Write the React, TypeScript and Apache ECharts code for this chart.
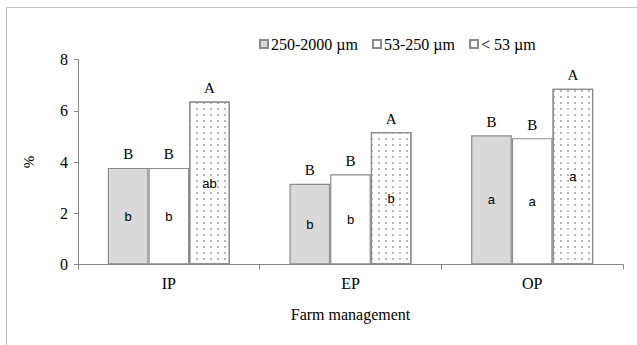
import React, { useEffect, useRef } from "react";
import * as echarts from "echarts";

const categories = ["IP", "EP", "OP"];
const seriesNames = ["250-2000 µm", "53-250 µm", "< 53 µm"];
const coarseValues = [3.77, 3.15, 5.04];
const mediumValues = [3.77, 3.52, 4.93];
const fineValues = [6.36, 5.17, 6.86];
const upperLetters = [
  ["B", "B", "B"],
  ["B", "B", "B"],
  ["A", "A", "A"],
];
const lowerLetters = [
  ["b", "b", "a"],
  ["b", "b", "a"],
  ["ab", "b", "a"],
];
const yTicks = { min: 0, max: 8, interval: 2 };

const SERIF = "'Liberation Serif', 'Times New Roman', serif";
const SANS = "'Liberation Sans', Arial, sans-serif";
const BORDER = "#8c8c8c";
const AXIS = "#878787";

export default function App() {
  const ref = useRef<HTMLDivElement>(null);
  useEffect(() => {
    if (!ref.current) return;
    const chart = echarts.init(ref.current, null, { renderer: "svg" });
    const values = [coarseValues, mediumValues, fineValues];
    const styles = [
      { color: "#d9d9d9", borderColor: BORDER, borderWidth: 1.2 },
      { color: "#ffffff", borderColor: BORDER, borderWidth: 1.2 },
      {
        color: "#ffffff",
        borderColor: BORDER,
        borderWidth: 1.2,
        decal: {
          symbol: "rect",
          symbolSize: 1,
          dashArrayX: [1.2, 4.2],
          dashArrayY: [1.2, 3.8],
          color: "#b8b8b8",
          rotation: 0,
        },
      },
    ];
    const barCfg = { barGap: "0%", barCategoryGap: "32.8%" };
    const series: any[] = [];
    values.forEach((vals, i) => {
      series.push({
        type: "bar",
        name: seriesNames[i],
        xAxisIndex: 0,
        data: vals,
        ...barCfg,
        itemStyle: styles[i],
        emphasis: { disabled: true },
        label: {
          show: true,
          position: "inside",
          fontFamily: SANS,
          fontSize: 13,
          color: "#000",
          formatter: (p: any) => lowerLetters[i][p.dataIndex],
        },
      });
    });
    values.forEach((vals, i) => {
      series.push({
        type: "bar",
        name: "top" + i,
        xAxisIndex: 1,
        data: vals,
        ...barCfg,
        itemStyle: { color: "transparent", borderWidth: 0 },
        emphasis: { disabled: true },
        label: {
          show: true,
          position: "top",
          distance: 6,
          fontFamily: SERIF,
          fontSize: 15,
          color: "#000",
          formatter: (p: any) => upperLetters[i][p.dataIndex],
        },
      });
    });
    chart.setOption({
      animation: false,
      backgroundColor: "#fff",
      textStyle: { fontFamily: SERIF },
      graphic: [
        {
          type: "rect",
          shape: { x: 6.5, y: 7.5, width: 700, height: 400 },
          style: { fill: "none", stroke: "#c4c4c4", lineWidth: 1 },
          silent: true,
        },
      ],
      legend: {
        data: seriesNames,
        left: 254,
        top: 31,
        itemWidth: 8,
        itemHeight: 8,
        itemGap: 14,
        icon: "rect",
        textStyle: { fontFamily: SERIF, fontSize: 16, color: "#000", padding: [0, 0, 0, -2] },
      },
      grid: { left: 78, right: 14, top: 59.5, bottom: 80.5, containLabel: false },
      xAxis: [
        {
          type: "category",
          data: categories,
          name: "Farm management",
          nameLocation: "middle",
          nameGap: 42,
          nameTextStyle: { fontFamily: SERIF, fontSize: 16, color: "#000" },
          axisLine: { show: true, lineStyle: { color: AXIS, width: 1 } },
          axisTick: { show: true, length: 5, lineStyle: { color: AXIS } },
          axisLabel: { fontFamily: SERIF, fontSize: 16, color: "#000", margin: 11 },
        },
        {
          type: "category",
          data: categories,
          show: false,
        },
      ],
      yAxis: {
        type: "value",
        min: yTicks.min,
        max: yTicks.max,
        interval: yTicks.interval,
        name: "%",
        nameLocation: "middle",
        nameRotate: 90,
        nameGap: 42,
        nameTextStyle: { fontFamily: SERIF, fontSize: 15, color: "#000" },
        axisLine: { show: true, lineStyle: { color: AXIS, width: 1 } },
        axisTick: { show: true, length: 4, lineStyle: { color: AXIS } },
        axisLabel: { fontFamily: SERIF, fontSize: 16, color: "#000", margin: 10 },
        splitLine: { show: false },
      },
      series,
    });
    return () => chart.dispose();
  }, []);
  return (
    <div
      ref={ref}
      style={{ position: "fixed", left: 0, top: 0, width: 637, height: 345 }}
    />
  );
}
